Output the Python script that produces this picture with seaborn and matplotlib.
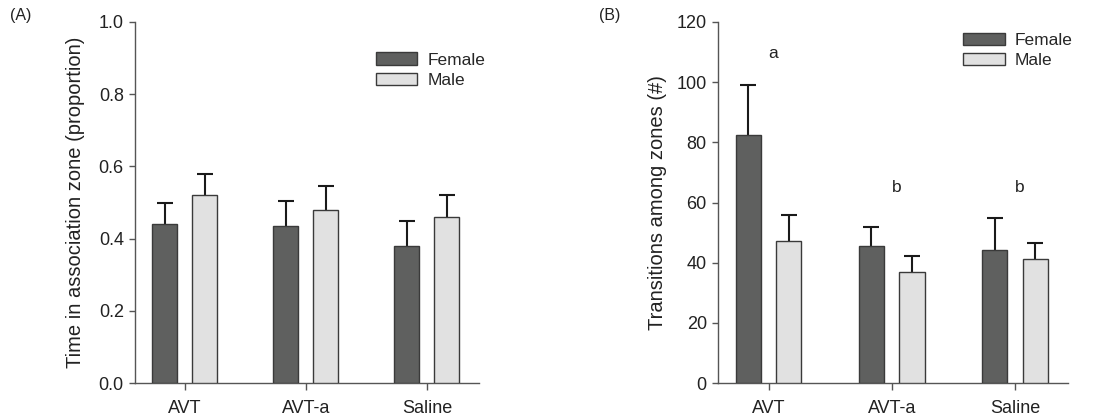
import matplotlib
matplotlib.use("Agg")
import matplotlib.pyplot as plt
import seaborn as sns
import pandas as pd
import numpy as np
from matplotlib.patches import Patch

treatments = ["AVT", "AVT-a", "Saline"]
sexes = ["Female", "Male"]

time_female = [0.44, 0.435, 0.38]
time_male = [0.52, 0.48, 0.46]
time_female_err = [0.06, 0.07, 0.07]
time_male_err = [0.06, 0.065, 0.06]

trans_female = [82.5, 45.5, 44.3]
trans_male = [47.3, 37.0, 41.3]
trans_female_err = [16.5, 6.5, 10.7]
trans_male_err = [8.7, 5.3, 5.4]

letters = ["a", "b", "b"]
letter_y = [109.5, 65.0, 65.0]

colors = {"Female": "#5f605f", "Male": "#e1e1e1"}

sns.set_theme(style="ticks")
plt.rcParams["font.family"] = ["Liberation Sans", "DejaVu Sans"]

fig = plt.figure(figsize=(11, 4.19), dpi=100)
axA = fig.add_axes([0.1227, 0.0859, 0.3127, 0.8616])
axB = fig.add_axes([0.6527, 0.0859, 0.3182, 0.8616])


def panel(ax, fem, mal, fem_err, mal_err, ylim, yticks, ylabel, fmt, labelpad):
    df = pd.DataFrame({
        "treatment": treatments * 2,
        "sex": ["Female"] * 3 + ["Male"] * 3,
        "value": list(fem) + list(mal),
    })
    sns.barplot(data=df, x="treatment", y="value", hue="sex", order=treatments,
                hue_order=sexes, palette=colors, width=0.66, gap=0.38,
                edgecolor="#3a3a3a", linewidth=1.0, errorbar=None, ax=ax,
                legend=False, saturation=1)
    errs = list(fem_err) + list(mal_err)
    vals = list(fem) + list(mal)
    patches = [p for p in ax.patches][:6]
    for p in patches:
        p.set_zorder(3)
    for p, v, e in zip(patches, vals, errs):
        xc = p.get_x() + p.get_width() / 2
        _, caps, _ = ax.errorbar(xc, v, yerr=[[0], [e]], fmt="none", ecolor="#1a1a1a",
                                 elinewidth=1.5, capsize=5.5, capthick=1.5, zorder=2)
        caps[0].set_visible(False)
    ax.set_xlim(-0.41, 2.43)
    ax.set_ylim(*ylim)
    ax.set_yticks(yticks)
    ax.set_yticklabels([fmt(t) for t in yticks], fontsize=13, color="#222222")
    ax.set_xticks(range(3))
    ax.set_xticklabels(treatments, fontsize=13, color="#222222")
    ax.set_xlabel("")
    ax.set_ylabel(ylabel, fontsize=14.5, color="#222222", labelpad=labelpad)
    for s in ["top", "right"]:
        ax.spines[s].set_visible(False)
    for s in ["left", "bottom"]:
        ax.spines[s].set_color("#555555")
        ax.spines[s].set_linewidth(1.0)
    ax.tick_params(axis="y", direction="out", length=4, width=1.0,
                   color="#555555", pad=4)
    ax.tick_params(axis="x", direction="out", length=5, width=1.0,
                   color="#555555", pad=7)
    handles = [Patch(facecolor=colors[s], edgecolor="#3a3a3a", linewidth=1.0, label=s)
               for s in sexes]
    return handles


hA = panel(axA, time_female, time_male, time_female_err, time_male_err,
           (0, 1.0), [0.0, 0.2, 0.4, 0.6, 0.8, 1.0],
           "Time in association zone (proportion)", lambda t: f"{t:.1f}", 10)
axA.legend(handles=hA, loc="upper left", bbox_to_anchor=(0.68, 0.935), frameon=False,
           fontsize=12.5, handlelength=2.4, handleheight=0.7, handletextpad=0.6,
           labelspacing=0.3, borderaxespad=0)

hB = panel(axB, trans_female, trans_male, trans_female_err, trans_male_err,
           (0, 120), [0, 20, 40, 60, 80, 100, 120],
           "Transitions among zones (#)", lambda t: f"{t:d}", 7)
axB.legend(handles=hB, loc="upper left", bbox_to_anchor=(0.68, 0.99), frameon=False,
           fontsize=12.5, handlelength=2.4, handleheight=0.7, handletextpad=0.6,
           labelspacing=0.3, borderaxespad=0)
for i, (l, y) in enumerate(zip(letters, letter_y)):
    axB.text(i + 0.04, y, l, ha="center", va="center", fontsize=12.5, color="#222222")

fig.text(0.009, 0.963, "(A)", fontsize=11.5, color="#222222", va="center")
fig.text(0.545, 0.963, "(B)", fontsize=11.5, color="#222222", va="center")

fig.savefig("out.png", dpi=100)
